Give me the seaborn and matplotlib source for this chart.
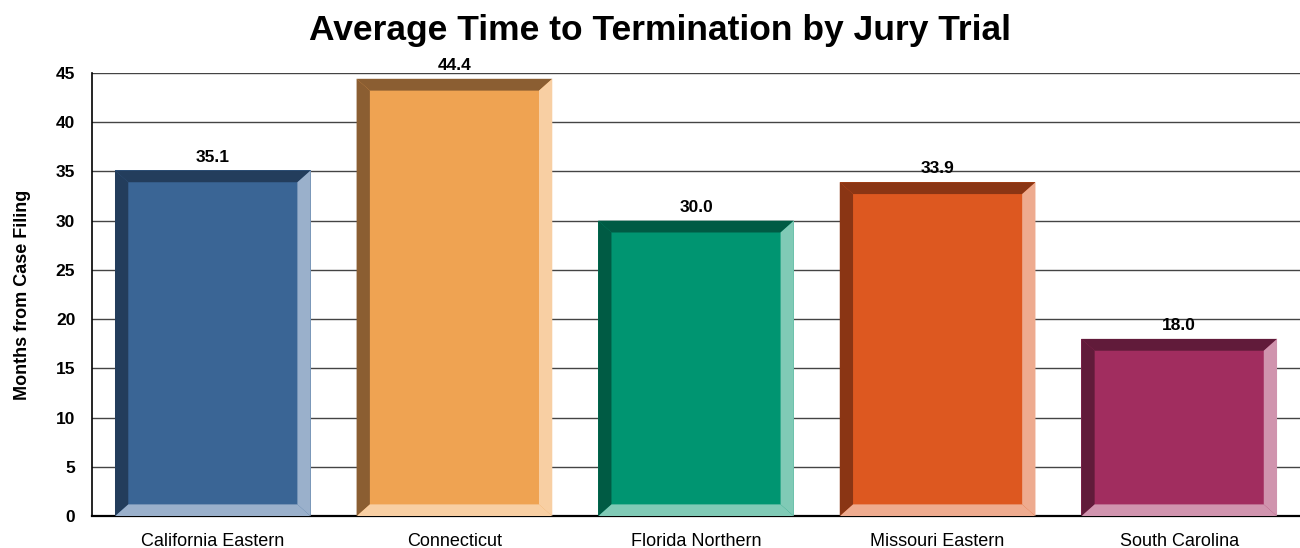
import matplotlib
matplotlib.use("Agg")
import matplotlib.pyplot as plt
from matplotlib.patches import Polygon
import seaborn as sns
import pandas as pd

# Data
districts = ["California Eastern", "Connecticut", "Florida Northern", "Missouri Eastern", "South Carolina"]
months = [35.1, 44.4, 30.0, 33.9, 18.0]

face_colors = ["#3A6595", "#EFA352", "#009571", "#DD5820", "#A12D5F"]
dark_colors = ["#233D5C", "#8B5E32", "#005B44", "#8A3514", "#611B3A"]
light_colors = ["#9AB0CB", "#F8CFA3", "#80CAB6", "#EEAB8F", "#D094AE"]

df = pd.DataFrame({"District": districts, "Months": months})

sns.set_style("white")
plt.rcParams["font.family"] = ["Liberation Sans", "DejaVu Sans"]
plt.rcParams["text.color"] = "black"
plt.rcParams["axes.labelcolor"] = "black"
plt.rcParams["xtick.color"] = "black"
plt.rcParams["ytick.color"] = "black"

fig = plt.figure(figsize=(13, 5.48), dpi=100)
ax = fig.add_axes([0.0708, 0.058, 0.9292, 0.809])

sns.barplot(
    data=df,
    x="District",
    y="Months",
    hue="District",
    palette=face_colors,
    saturation=1,
    width=0.81,
    legend=False,
    ax=ax,
    zorder=2,
    linewidth=0,
)

# bevel edges around each bar
bx = 0.055   # horizontal bevel in data units
by = 1.2     # vertical bevel in data units
for patch, dk, lt in zip(ax.patches, dark_colors, light_colors):
    x0 = patch.get_x()
    x1 = x0 + patch.get_width()
    h = patch.get_height()
    # left (dark)
    ax.add_patch(Polygon([(x0, 0), (x0, h), (x0 + bx, h - by), (x0 + bx, by)],
                         closed=True, facecolor=dk, edgecolor="none", zorder=3))
    # top (dark)
    ax.add_patch(Polygon([(x0, h), (x1, h), (x1 - bx, h - by), (x0 + bx, h - by)],
                         closed=True, facecolor=dk, edgecolor="none", zorder=3))
    # right (light)
    ax.add_patch(Polygon([(x1, h), (x1, 0), (x1 - bx, by), (x1 - bx, h - by)],
                         closed=True, facecolor=lt, edgecolor="none", zorder=3))
    # bottom (light)
    ax.add_patch(Polygon([(x0, 0), (x1, 0), (x1 - bx, by), (x0 + bx, by)],
                         closed=True, facecolor=lt, edgecolor="none", zorder=3))
    ax.text(x0 + patch.get_width() / 2, h + 0.6, f"{h:.1f}",
            ha="center", va="bottom", fontsize=12.5, fontweight="bold", zorder=4)

ax.set_xlim(-0.5, len(districts) - 0.5)
ax.set_ylim(0, 45)
ax.set_yticks(range(0, 50, 5))
ax.yaxis.grid(True, color="#444444", linewidth=1.0, zorder=0)
ax.set_axisbelow(True)

for side in ["top", "right"]:
    ax.spines[side].set_visible(False)
ax.spines["left"].set_color("black")
ax.spines["left"].set_linewidth(1.2)
ax.spines["bottom"].set_color("black")
ax.spines["bottom"].set_linewidth(1.6)

ax.set_xlabel("")
ax.set_ylabel("Months from Case Filing", fontsize=13, fontweight="bold", labelpad=18)
ax.tick_params(axis="x", labelsize=13, length=0, pad=12)
ax.tick_params(axis="y", labelsize=12.5, length=0, pad=12)
for lbl in ax.get_yticklabels():
    lbl.set_fontweight("bold")

fig.suptitle("Average Time to Termination by Jury Trial", fontsize=25.5,
             fontweight="bold", x=0.508, y=0.975)

plt.savefig("out.png", dpi=100)
